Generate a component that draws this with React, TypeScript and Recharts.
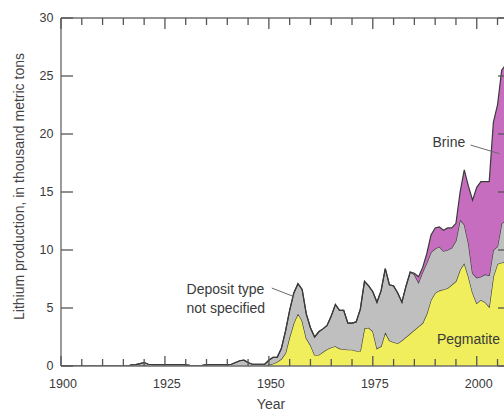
import React from 'react';
import { AreaChart, Area, XAxis, YAxis, ReferenceLine, ReferenceDot } from 'recharts';

// Years 1900-2008 (thousand metric tons of lithium)
const years: number[] = Array.from({ length: 109 }, (_, i) => 1900 + i);

const pegmatite: number[] = [
  0, 0, 0, 0, 0, 0, 0, 0, 0, 0,
  0, 0, 0, 0, 0, 0, 0, 0, 0, 0.05,
  0.1, 0, 0, 0, 0, 0, 0, 0, 0, 0,
  0, 0, 0, 0, 0, 0, 0, 0, 0, 0,
  0, 0, 0, 0, 0, 0, 0, 0, 0, 0,
  0.1, 0.2, 0.35, 0.6, 1.1, 2.5, 3.7, 4.5, 3.9, 2.4,
  1.8, 0.95, 0.95, 1.2, 1.45, 1.6, 1.7, 1.5, 1.45, 1.4,
  1.4, 1.3, 1.3, 3.25, 3.3, 3.0, 1.5, 1.7, 2.9, 2.2,
  2.05, 1.95, 2.2, 2.5, 2.8, 3.1, 3.4, 3.7, 4.5, 5.7,
  6.3, 6.5, 6.6, 6.7, 7.0, 7.3, 8.3, 8.85, 7.7, 6.3,
  5.4, 5.7, 5.5, 5.1, 7.7, 8.8, 8.9, 9.0, 9.0,
];

const notSpecified: number[] = [
  0, 0, 0, 0, 0, 0, 0, 0, 0, 0,
  0, 0, 0, 0, 0, 0, 0, 0.1, 0.12, 0.15,
  0.2, 0.15, 0.12, 0.12, 0.12, 0.12, 0.12, 0.12, 0.12, 0.12,
  0.1, 0.05, 0.03, 0.03, 0.05, 0.12, 0.12, 0.12, 0.12, 0.12,
  0.12, 0.15, 0.3, 0.45, 0.5, 0.3, 0.15, 0.15, 0.15, 0.15,
  0.4, 0.55, 0.4, 0.9, 1.9, 2.3, 2.6, 2.6, 2.7, 2.1,
  1.5, 1.55, 2.0, 2.0, 2.05, 2.7, 3.6, 3.3, 3.35, 2.3,
  2.3, 2.5, 3.6, 4.05, 3.6, 3.4, 4.0, 4.8, 5.5, 4.8,
  4.85, 4.35, 3.3, 4.4, 5.3, 4.8, 3.8, 4.4, 4.4, 4.1,
  3.8, 3.8, 3.3, 3.3, 3.2, 3.5, 4.3, 3.35, 2.9, 1.7,
  2.2, 2.0, 2.4, 2.7, 2.3, 1.5, 3.4, 3.5, 3.5,
];

const brine: number[] = [
  0, 0, 0, 0, 0, 0, 0, 0, 0, 0,
  0, 0, 0, 0, 0, 0, 0, 0, 0, 0,
  0, 0, 0, 0, 0, 0, 0, 0, 0, 0,
  0, 0, 0, 0, 0, 0, 0, 0, 0, 0,
  0, 0, 0, 0, 0, 0, 0, 0, 0, 0,
  0, 0, 0, 0, 0, 0, 0, 0, 0, 0,
  0, 0, 0, 0, 0, 0, 0, 0, 0, 0,
  0, 0, 0, 0, 0, 0, 0, 0, 0, 0,
  0, 0, 0, 0, 0, 0.1, 0.5, 0.4, 0.8, 1.5,
  1.8, 1.7, 1.8, 1.9, 1.7, 1.5, 2.4, 4.7, 4.9, 6.3,
  7.8, 8.2, 8.0, 8.1, 11.0, 12.2, 13.2, 13.5, 14.0,
];

const yTicks = [0, 5, 10, 15, 20, 25, 30];
const xTicks = [1900, 1905, 1910, 1915, 1920, 1925, 1930, 1935, 1940, 1945, 1950,
  1955, 1960, 1965, 1970, 1975, 1980, 1985, 1990, 1995, 2000, 2005];
const xLabelYears = [1900, 1925, 1950, 1975, 2000];

const data = years.map((year, i) => ({
  year,
  pegmatite: pegmatite[i],
  notSpecified: notSpecified[i],
  brine: brine[i],
}));

const FONT = "'Liberation Sans', Arial, Helvetica, sans-serif";
const AXIS = '#707070';
const TICK = '#555555';
const TEXT = '#3a3a3a';
const OUTLINE = '#3a3a3a';

function BottomTick(props: any) {
  const { x, y, payload } = props;
  const v = payload.value;
  const major = v % 25 === 0;
  return (
    <g>
      <line x1={x} y1={y} x2={x} y2={y - (major ? 10 : 7)} stroke={TICK} strokeWidth={1.3} />
      {xLabelYears.includes(v) && (
        <text x={x + 2} y={y + 17.5} dominantBaseline="central" textAnchor="middle"
          fontFamily={FONT} fontSize={12.5} fill={TEXT}>{v}</text>
      )}
    </g>
  );
}

function TopTick(props: any) {
  const { x, y, payload } = props;
  const major = payload.value % 25 === 0;
  return <line x1={x} y1={y} x2={x} y2={y + (major ? 11 : 7)} stroke={TICK} strokeWidth={1.3} />;
}

function LeftTick(props: any) {
  const { x, y, payload } = props;
  return (
    <g>
      <line x1={x} y1={y} x2={x + 12} y2={y} stroke={TICK} strokeWidth={1.3} />
      <text x={x - 7.5} y={y} dominantBaseline="central" textAnchor="end"
        fontFamily={FONT} fontSize={12.5} fill={TEXT}>{payload.value}</text>
    </g>
  );
}

function RightTick(props: any) {
  const { x, y } = props;
  return <line x1={x} y1={y} x2={x - 12} y2={y} stroke={TICK} strokeWidth={1.3} />;
}

function YTitle(props: any) {
  const vb = props.viewBox;
  const cx = vb.x + 11;
  const cy = vb.y + vb.height / 2 - 5.5;
  return (
    <text x={cx} y={cy} transform={`rotate(-90, ${cx}, ${cy})`} textAnchor="middle"
      dominantBaseline="central" fontFamily={FONT} fontSize={14} fill="#444">
      Lithium production, in thousand metric tons
    </text>
  );
}

function XTitle(props: any) {
  const vb = props.viewBox;
  const cx = vb.x + vb.width / 2 - 14.5;
  const cy = vb.y + 38;
  return (
    <text x={cx} y={cy} textAnchor="middle" dominantBaseline="central"
      fontFamily={FONT} fontSize={14} fill="#444">Year</text>
  );
}

const noteLabel = (value: string, position: any) => ({
  value,
  position,
  offset: 0,
  fill: TEXT,
  fontSize: 14,
  fontFamily: FONT,
});

export default function App() {
  return (
    <div style={{ position: 'fixed', left: 0, top: 0, width: 504, height: 412, overflow: 'hidden', background: '#fff' }}>
      <div style={{ position: 'absolute', left: 8, top: 8 }}>
        <AreaChart width={530} height={404} data={data}
          margin={{ top: 0, right: 20, bottom: 0, left: 0 }}>
          <XAxis dataKey="year" type="number" domain={[1900, 2008]} ticks={xTicks}
            allowDataOverflow interval={0} height={46} tickSize={0} tickMargin={0}
            tickLine={false} tick={(p: any) => <BottomTick {...p} />}
            axisLine={{ stroke: AXIS, strokeWidth: 1.4 }}
            label={{ content: XTitle }} />
          <XAxis xAxisId="top" orientation="top" dataKey="year" type="number"
            domain={[1900, 2008]} ticks={xTicks} allowDataOverflow interval={0}
            height={10} tickSize={0} tickMargin={0} tickLine={false}
            tick={(p: any) => <TopTick {...p} />}
            axisLine={{ stroke: AXIS, strokeWidth: 1.4 }} />
          <YAxis type="number" domain={[0, 30]} ticks={yTicks} allowDataOverflow
            interval={0} width={53} tickSize={0} tickMargin={0} tickLine={false}
            tick={(p: any) => <LeftTick {...p} />}
            axisLine={{ stroke: AXIS, strokeWidth: 1.4 }}
            label={{ content: YTitle }} />
          <YAxis yAxisId="right" orientation="right" type="number" domain={[0, 30]}
            ticks={yTicks} allowDataOverflow interval={0} width={8} tickSize={0}
            tickMargin={0} tickLine={false} tick={(p: any) => <RightTick {...p} />}
            axisLine={{ stroke: AXIS, strokeWidth: 1.4 }} />
          <Area type="linear" dataKey="pegmatite" stackId="1" stroke={OUTLINE}
            strokeWidth={1.2} fill="#F0EE5C" fillOpacity={1} dot={false}
            activeDot={false} isAnimationActive={false} />
          <Area type="linear" dataKey="notSpecified" stackId="1" stroke={OUTLINE}
            strokeWidth={1.2} fill="#BFBFBF" fillOpacity={1} dot={false}
            activeDot={false} isAnimationActive={false} />
          <Area type="linear" dataKey="brine" stackId="1" stroke={OUTLINE}
            strokeWidth={1.2} fill="#C76DC0" fillOpacity={1} dot={false}
            activeDot={false} isAnimationActive={false} />
          <ReferenceLine segment={[{ x: 1998.5, y: 19.05 }, { x: 2005.5, y: 18.3 }]}
            stroke="#6a6a6a" strokeWidth={1} ifOverflow="visible" />
          <ReferenceLine segment={[{ x: 1950.7, y: 6.72 }, { x: 1956.1, y: 5.97 }]}
            stroke="#6a6a6a" strokeWidth={1} ifOverflow="visible" />
          <ReferenceDot x={1993.3} y={19.3} r={0} fill="none" stroke="none"
            label={noteLabel('Brine', 'center')} />
          <ReferenceDot x={1930.2} y={6.64} r={0} fill="none" stroke="none"
            label={noteLabel('Deposit type', 'right')} />
          <ReferenceDot x={1930.2} y={5.0} r={0} fill="none" stroke="none"
            label={noteLabel('not specified', 'right')} />
          <ReferenceDot x={1998.0} y={2.33} r={0} fill="none" stroke="none"
            label={noteLabel('Pegmatite', 'center')} />
        </AreaChart>
      </div>
    </div>
  );
}
